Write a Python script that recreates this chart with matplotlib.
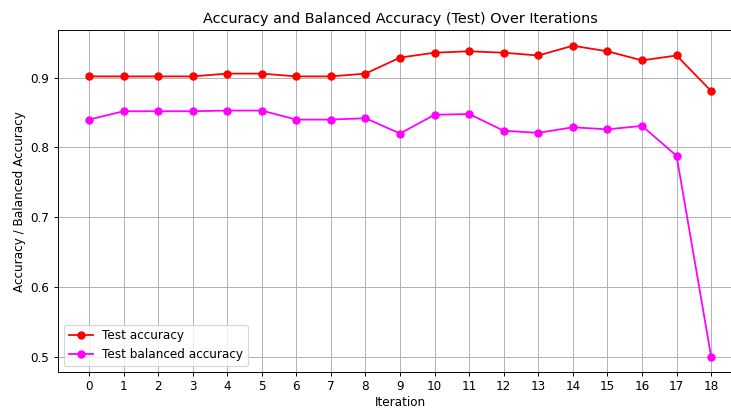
import matplotlib
matplotlib.use("Agg")
import matplotlib.pyplot as plt

iterations = list(range(19))
test_acc = [0.902, 0.902, 0.902, 0.902, 0.906, 0.906, 0.902, 0.902, 0.906,
            0.929, 0.936, 0.938, 0.936, 0.932, 0.946, 0.938, 0.925, 0.932, 0.881]
test_bal_acc = [0.840, 0.852, 0.852, 0.852, 0.853, 0.853, 0.840, 0.840, 0.842,
                0.820, 0.847, 0.848, 0.824, 0.821, 0.829, 0.826, 0.831, 0.788, 0.500]

DPI = 86.12
fig = plt.figure(figsize=(732 / DPI, 408 / DPI), dpi=DPI)
ax = fig.add_axes([0.079, 0.088, 0.935, 0.838])
ax.plot(iterations, test_acc, "o-", color="red", label="Test accuracy")
ax.plot(iterations, test_bal_acc, "o-", color="magenta",
        label="Test balanced accuracy")
ax.set_xticks(iterations)
ax.set_xlabel("Iteration", labelpad=2)
ax.set_ylabel("Accuracy / Balanced Accuracy")
ax.set_title("Accuracy and Balanced Accuracy (Test) Over Iterations")
ax.grid(True)
ax.legend(loc="lower left")
fig.savefig("out.png", dpi=DPI)
